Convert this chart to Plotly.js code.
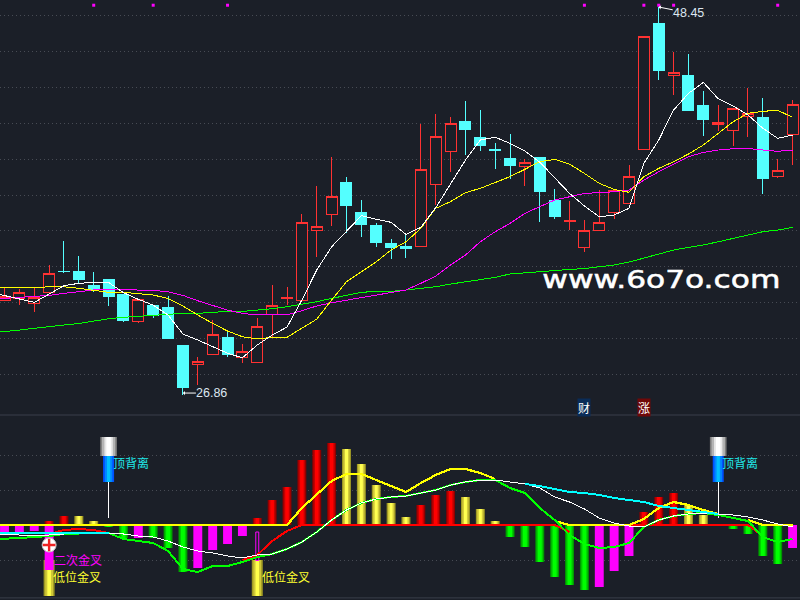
<!DOCTYPE html>
<html>
<head>
<meta charset="utf-8">
<script src="https://cdn.plot.ly/plotly-3.0.1.min.js"></script>
<style>html,body{margin:0;padding:0;background:#1b1f28}#chart{width:800px;height:600px}
.scatterlayer .js-line,.boxlayer path{shape-rendering:crispEdges !important}</style>
</head>
<body>
<div id="chart"></div>
<script>
// ---- price candles (one per trading day) ----
const openP = [32.16,32.25,31.98,32.57,33.77,33.77,32.99,33.33,32.49,30.95,31.88,31.77,29.66,28.56,29.12,30.10,28.95,28.70,31.33,32.27,32.12,36.01,36.92,38.72,37.05,36.33,35.33,35.11,35.12,38.59,40.43,42.06,41.22,40.53,40.04,39.57,40.06,37.72,36.55,35.07,36.04,37.04,37.51,40.52,47.51,44.63,44.67,43.00,41.93,41.60,42.37,42.33,39.02,41.35];
const closeP = [32.34,32.59,32.31,33.64,33.72,33.33,32.72,32.34,31.01,32.20,31.29,30.01,27.28,28.75,30.25,29.12,29.31,30.70,31.83,32.33,36.48,36.26,37.93,37.40,36.35,35.35,35.07,35.05,39.43,41.26,41.98,41.63,40.74,40.47,39.63,39.82,38.18,36.83,36.61,36.04,36.48,38.26,39.04,46.82,44.91,44.82,42.69,42.22,42.04,42.82,42.54,38.89,39.37,43.04];
const highP = [32.83,32.75,32.83,34.11,35.44,34.61,33.72,33.33,32.49,32.20,31.88,32.38,29.66,28.99,31.05,30.38,29.71,31.16,32.99,32.90,36.94,38.50,40.11,39.00,37.72,36.44,35.55,35.83,41.95,42.50,42.33,43.22,42.72,40.89,41.37,40.00,40.06,38.33,37.66,36.61,38.28,38.28,39.67,46.82,48.45,45.95,45.84,43.78,43.00,42.82,43.95,43.39,40.00,43.28];
const lowP = [32.12,31.88,31.51,32.57,33.64,33.11,32.62,31.83,30.95,30.88,31.18,30.01,26.86,27.43,29.12,29.01,28.67,28.70,30.03,31.88,32.12,34.57,36.29,35.90,35.68,35.12,34.46,34.51,35.12,37.44,39.29,40.22,40.44,39.46,38.89,38.50,36.51,36.68,36.05,34.85,36.04,36.66,37.51,40.52,44.39,43.56,42.69,41.28,41.56,40.72,41.24,38.05,38.96,39.67];

// ---- moving averages (first value belongs to the day before the first candle) ----
const ma5 = [32.60,32.42,32.25,32.03,32.49,32.96,33.09,33.14,33.14,32.57,32.20,31.88,31.33,30.27,29.94,29.56,29.20,28.95,29.66,30.21,30.66,32.16,33.83,35.12,35.96,36.85,36.65,36.48,35.81,36.20,37.29,38.65,39.94,41.06,41.21,40.87,40.44,39.83,38.93,38.09,37.39,36.79,36.89,37.26,39.76,41.06,42.72,43.65,44.26,43.35,42.95,42.45,41.71,41.15,41.33];
const ma10 = [32.84,32.84,32.84,32.84,32.90,32.90,32.81,32.72,32.59,32.59,32.53,32.44,32.25,31.83,31.33,30.86,30.44,30.12,30.00,30.09,30.09,30.60,31.10,32.16,33.18,33.73,34.29,34.94,35.40,36.15,37.26,37.63,38.13,38.37,38.68,39.02,39.43,39.85,39.98,39.72,39.20,38.65,38.31,38.15,39.02,39.48,39.85,40.28,40.78,41.43,42.07,42.54,42.65,42.71,42.32];
const ma20 = [32.20,32.25,32.31,32.34,32.42,32.53,32.62,32.72,32.75,32.72,32.70,32.70,32.62,32.42,32.12,31.88,31.60,31.42,31.33,31.33,31.33,31.57,31.83,32.01,32.16,32.31,32.44,32.57,32.72,33.09,33.49,34.11,34.66,35.40,35.96,36.42,36.98,37.35,37.72,37.90,38.09,38.13,38.18,38.28,38.83,39.29,39.70,40.13,40.37,40.50,40.57,40.59,40.50,40.43,40.50];
const ma60 = [30.33,30.40,30.49,30.59,30.68,30.75,30.86,30.99,31.12,31.20,31.25,31.31,31.38,31.42,31.42,31.48,31.53,31.53,31.60,31.68,31.79,31.92,32.07,32.25,32.44,32.59,32.64,32.64,32.72,32.81,32.90,33.05,33.16,33.27,33.42,33.61,33.68,33.73,33.80,33.86,33.91,33.99,34.11,34.27,34.48,34.72,34.94,35.09,35.22,35.40,35.59,35.81,35.96,36.05,36.20];

// ---- top signal dots (day index) ----
const signalDays = [6,10,15,39,43,44,45,52];
const signalLevel = [48.55,48.55,48.55,48.55,48.55,48.55,48.55,48.55];

// ---- lower panel histogram ----
const histValues = [-0.07,-0.07,-0.06,0.04,0.09,0.09,0.04,-0.02,-0.13,-0.13,-0.13,-0.23,-0.47,-0.43,-0.25,-0.19,-0.11,0.07,0.25,0.38,0.65,0.75,0.82,0.76,0.61,0.40,0.22,0.08,0.20,0.30,0.34,0.28,0.16,0.04,-0.12,-0.22,-0.37,-0.52,-0.60,-0.65,-0.62,-0.46,-0.31,0.13,0.28,0.32,0.20,0.10,null,-0.04,-0.09,-0.31,-0.39,-0.23];
const histKinds = ['m','m','m','r','r','y','y','g','g','m','g','g','g','m','m','m','m','r','r','r','r','r','r','y','y','y','y','y','r','r','r','y','y','y','g','g','g','g','g','g','m','m','m','r','r','r','y','y','g','g','g','g','g','m'];

// ---- lower panel lines (first value belongs to the day before the first candle) ----
const lineYellow = [0,0,0,0,0,0,0,0,0,0,0,0,0,0,0,0,0,0,0,0,0,0.17,0.31,0.44,0.51,0.51,0.45,0.39,0.33,0.42,0.50,0.56,0.56,0.52,0.46,null,null,null,0.04,0,0,0,0,0,0.06,0.17,0.23,0.20,0.15,0.11,null,0.05,0,0,0];
const lineRed = [null,null,null,null,-0.09,-0.05,-0.04,-0.05,-0.08,null,null,null,null,null,null,null,null,-0.35,-0.30,-0.16,-0.06,0,0,0,0,0,0,0,0,0,0,0,0,0,0,0,0,0,0,-0.07,null,null,null,0,0,0,0,0,0,0,0,0,-0.11,null,null];
const lineGreen = [-0.145,-0.14,-0.13,-0.12,-0.11,-0.09,-0.09,null,-0.08,-0.14,-0.16,-0.18,-0.26,-0.44,-0.47,-0.41,-0.41,-0.37,-0.32,-0.29,-0.24,-0.17,-0.07,0.05,0.15,0.22,0.26,0.28,0.29,0.32,0.35,0.40,0.43,0.45,0.45,0.37,0.32,0.17,0.05,-0.10,-0.19,-0.23,-0.22,-0.18,-0.02,0.05,0.09,0.11,0.12,0.10,0.07,0.04,-0.12,-0.17,-0.14];
const lineWhite = [-0.09,-0.09,-0.10,-0.11,-0.10,-0.09,-0.08,-0.08,-0.08,-0.09,-0.11,-0.12,-0.16,-0.22,-0.26,-0.28,-0.31,-0.33,-0.30,-0.29,-0.24,-0.17,-0.07,0.05,0.15,0.22,0.26,0.28,0.29,0.32,0.35,0.40,0.43,0.45,0.45,0.43,0.41,0.37,0.28,0.23,0.16,0.07,0.02,-0.01,-0.02,0.05,0.09,0.11,0.12,0.11,0.10,0.08,0.05,0.01,-0.02];
const lineCyan = [-0.08,-0.08,-0.08,-0.08,-0.08,-0.08,-0.08,-0.08,-0.08,null,null,null,null,null,null,null,null,null,null,null,null,null,null,null,null,null,null,null,null,null,null,null,null,null,null,null,0.41,0.39,0.36,0.33,0.32,0.30,0.27,0.25,0.23,0.19,0.17,0.15,0.13,0.11,null,null,null,null,null];

// ---- lower panel signal pillars ----
const crossDays = [3];
const crossDepth = [-0.45];
const goldDays = [3,17];
const goldFrom = [-0.71,-0.71];
const goldHeight = [0.36,0.36];
const pillarDays = [7,48];
const capFrom = [0.69,0.69];
const capHeight = [0.19,0.19];
const stemFrom = [0.43,0.43];
const stemHeight = [0.26,0.26];
const ringDay = [3];
const ringLevel = [-0.20];

const days = openP.map((_, i) => i);
const lineDays = [-1].concat(days);
const traces = [];
const BG = '#1b1f28';

// candles
traces.push({
  type: 'candlestick', x: days, open: openP, high: highP, low: lowP, close: closeP,
  xaxis: 'x', yaxis: 'y', whiskerwidth: 0, hoverinfo: 'skip',
  increasing: {line: {color: '#ff3232', width: 1}, fillcolor: BG},
  decreasing: {line: {color: '#54ffff', width: 1}, fillcolor: '#54ffff'}
});
[[ma60,'#00ff00',1],[ma20,'#ff00ff',1],[ma10,'#ffff00',1],[ma5,'#ffffff',1]].forEach(([v,c,w]) => {
  traces.push({type:'scatter',mode:'lines',x:lineDays,y:v,xaxis:'x',yaxis:'y',hoverinfo:'skip',line:{color:c,width:w}});
});
traces.push({type:'scatter',mode:'markers',x:signalDays,y:signalLevel,xaxis:'x',yaxis:'y',hoverinfo:'skip',
  marker:{symbol:'square',size:3,color:'#ff00ff'}});

// helper: layered bars give the cylinder shading
function layered(x, y, base, layers) {
  layers.forEach(([color, width]) => {
    const t = {type:'bar',x:x,y:y,xaxis:'x',yaxis:'y2',width:width,hoverinfo:'skip',marker:{color:color,line:{width:0}}};
    if (base) t.base = base;
    traces.push(t);
  });
}
// gold pillars go behind everything
layered(goldDays, goldHeight, goldFrom, [['#a09a24',0.74],['#d0c838',0.52],['#ffff4a',0.24]]);

const shades = {
  r: [['#8c0000',0.6],['#c40000',0.44],['#ff0000',0.24]],
  y: [['#a09a24',0.6],['#d4cc3c',0.42],['#ffff50',0.2]],
  g: [['#009800',0.6],['#00cc00',0.44],['#00ff00',0.26]],
  m: [['#ff00ff',0.6]]
};
Object.keys(shades).forEach(k => {
  const y = histValues.map((v, i) => histKinds[i] === k ? v : null);
  layered(days, y, null, shades[k]);
});
layered(crossDays, crossDepth, null, [['#ff00ff',0.6]]);
// thin outlined magenta bar
traces.push({type:'bar',x:[17],y:[0.285],base:[-0.355],width:0.2,xaxis:'x',yaxis:'y2',hoverinfo:'skip',
  marker:{color:'rgba(0,0,0,0)',line:{color:'#ff00ff',width:1}}});

// top-divergence pillars
layered(pillarDays, stemHeight, stemFrom, [['#0050ff',0.74],['#0088ff',0.5],['#00c0ff',0.22]]);
layered(pillarDays, capHeight, capFrom, [['#7c7c7c',1.12],['#b4b4b4',0.9],['#e8e8e8',0.56],['#ffffff',0.3]]);
pillarDays.forEach((d, i) => {
  traces.push({type:'scatter',mode:'lines',x:[d,d],y:[stemFrom[i],0.07],xaxis:'x',yaxis:'y2',hoverinfo:'skip',line:{color:'#ffffff',width:1}});
});

[[lineRed,'#ff0000',2],[lineYellow,'#ffff00',2.2],[lineGreen,'#00ff00',2],[lineWhite,'#ffffff',1],[lineCyan,'#00ffff',2]].forEach(([v,c,w]) => {
  traces.push({type:'scatter',mode:'lines',x:lineDays,y:v,xaxis:'x',yaxis:'y2',hoverinfo:'skip',connectgaps:false,line:{color:c,width:w}});
});
// ring with plus
traces.push({type:'scatter',mode:'markers',x:ringDay,y:ringLevel,xaxis:'x',yaxis:'y2',hoverinfo:'skip',
  marker:{symbol:'circle',size:14,color:'#ffffff',line:{color:'#c8c8c8',width:1}}});
traces.push({type:'scatter',mode:'markers',x:ringDay,y:ringLevel,xaxis:'x',yaxis:'y2',hoverinfo:'skip',
  marker:{symbol:'cross-thin',size:9,line:{color:'#ee2222',width:2.4}}});

const CJK = '"Noto Sans CJK SC", sans-serif';
const note = (x, y, text, color, yref) => ({x, y, text, xref:'x', yref:yref||'y2', showarrow:false, xanchor:'left', yanchor:'middle',
  borderpad:0, font:{family:CJK,size:12,color}});

const annotations = [
  note(7.2, 0.63, '顶背离', '#20e8e8'),
  note(48.2, 0.63, '顶背离', '#20e8e8'),
  note(3.25, -0.34, '二次金叉', '#ff00ff'),
  note(3.18, -0.51, '低位金叉', '#ffff30'),
  note(17.25, -0.51, '低位金叉', '#ffff30'),
  {x:12, y:26.99, xref:'x', yref:'y', ax:29, ay:0, text:'26.86', showarrow:true, arrowhead:1, arrowsize:0.7, arrowwidth:1, arrowcolor:'#ffffff', borderpad:0,
    font:{family:'"Liberation Sans", Arial, sans-serif',size:12.5,color:'#dce6f0'}},
  {x:44, y:48.45, xref:'x', yref:'y', ax:30, ay:6, text:'48.45', showarrow:true, arrowhead:1, arrowsize:0.7, arrowwidth:1, arrowcolor:'#ffffff', borderpad:0,
    font:{family:'"Liberation Sans", Arial, sans-serif',size:12.5,color:'#dce6f0'}},
  {x:39, y:26.17, xref:'x', yref:'y', text:'财', showarrow:false, bgcolor:'#0a2c58', borderpad:0, font:{family:CJK,size:12,color:'#ffffff'}},
  {x:43, y:26.17, xref:'x', yref:'y', text:'涨', showarrow:false, bgcolor:'#700808', borderpad:0, font:{family:CJK,size:12,color:'#ffffff'}},
  {x:44.2, y:33.27, xref:'x', yref:'y', text:'www.6o7o.com', showarrow:false, borderpad:0, font:{family:'"DejaVu Sans", sans-serif',size:24,color:'#ffffff'}}
];

const rule = {type:'line',xref:'paper',yref:'paper',x0:0,x1:1,line:{color:'#3a3f4b',width:1}};
const layout = {
  width:800, height:600, autosize:false, showlegend:false,
  margin:{l:0,r:0,t:0,b:0,pad:0},
  paper_bgcolor:BG, plot_bgcolor:BG,
  barmode:'overlay', boxgap:0.26, boxgroupgap:0, boxmode:'overlay', hovermode:false,
  xaxis:{range:[-0.3026,53.5],showgrid:false,zeroline:false,showticklabels:false,ticks:'',showline:false,fixedrange:true,rangeslider:{visible:false},anchor:'y2'},
  yaxis:{domain:[0.30833,1],range:[25.77,48.84],tickvals:[48,46,44,42,40,38,36,34,32,30,28],showticklabels:false,ticks:'',
    gridcolor:'#474b54',griddash:'1px,3px',gridwidth:1,zeroline:false,showline:false,fixedrange:true,anchor:'x'},
  yaxis2:{domain:[0,0.30833],range:[-0.75,1.10],tickvals:[0.70,0.35,-0.35],showticklabels:false,ticks:'',
    gridcolor:'#474b54',griddash:'1px,3px',gridwidth:1,zeroline:false,showline:false,fixedrange:true,anchor:'x'},
  shapes:[Object.assign({},rule,{y0:0.30833,y1:0.30833}),Object.assign({},rule,{y0:0.0035,y1:0.0035})],
  annotations
};

Plotly.newPlot('chart', traces, layout, {displayModeBar:false, staticPlot:true}).then(() => {
  document.querySelectorAll('.annotation-text').forEach(t => {
    if (t.textContent === 'www.6o7o.com') {
      t.setAttribute('textLength', '238');
      t.setAttribute('lengthAdjust', 'spacingAndGlyphs');
      t.style.stroke = '#ffffff';
      t.style.strokeWidth = '0.5px';
    }
  });
});
</script>
</body>
</html>
